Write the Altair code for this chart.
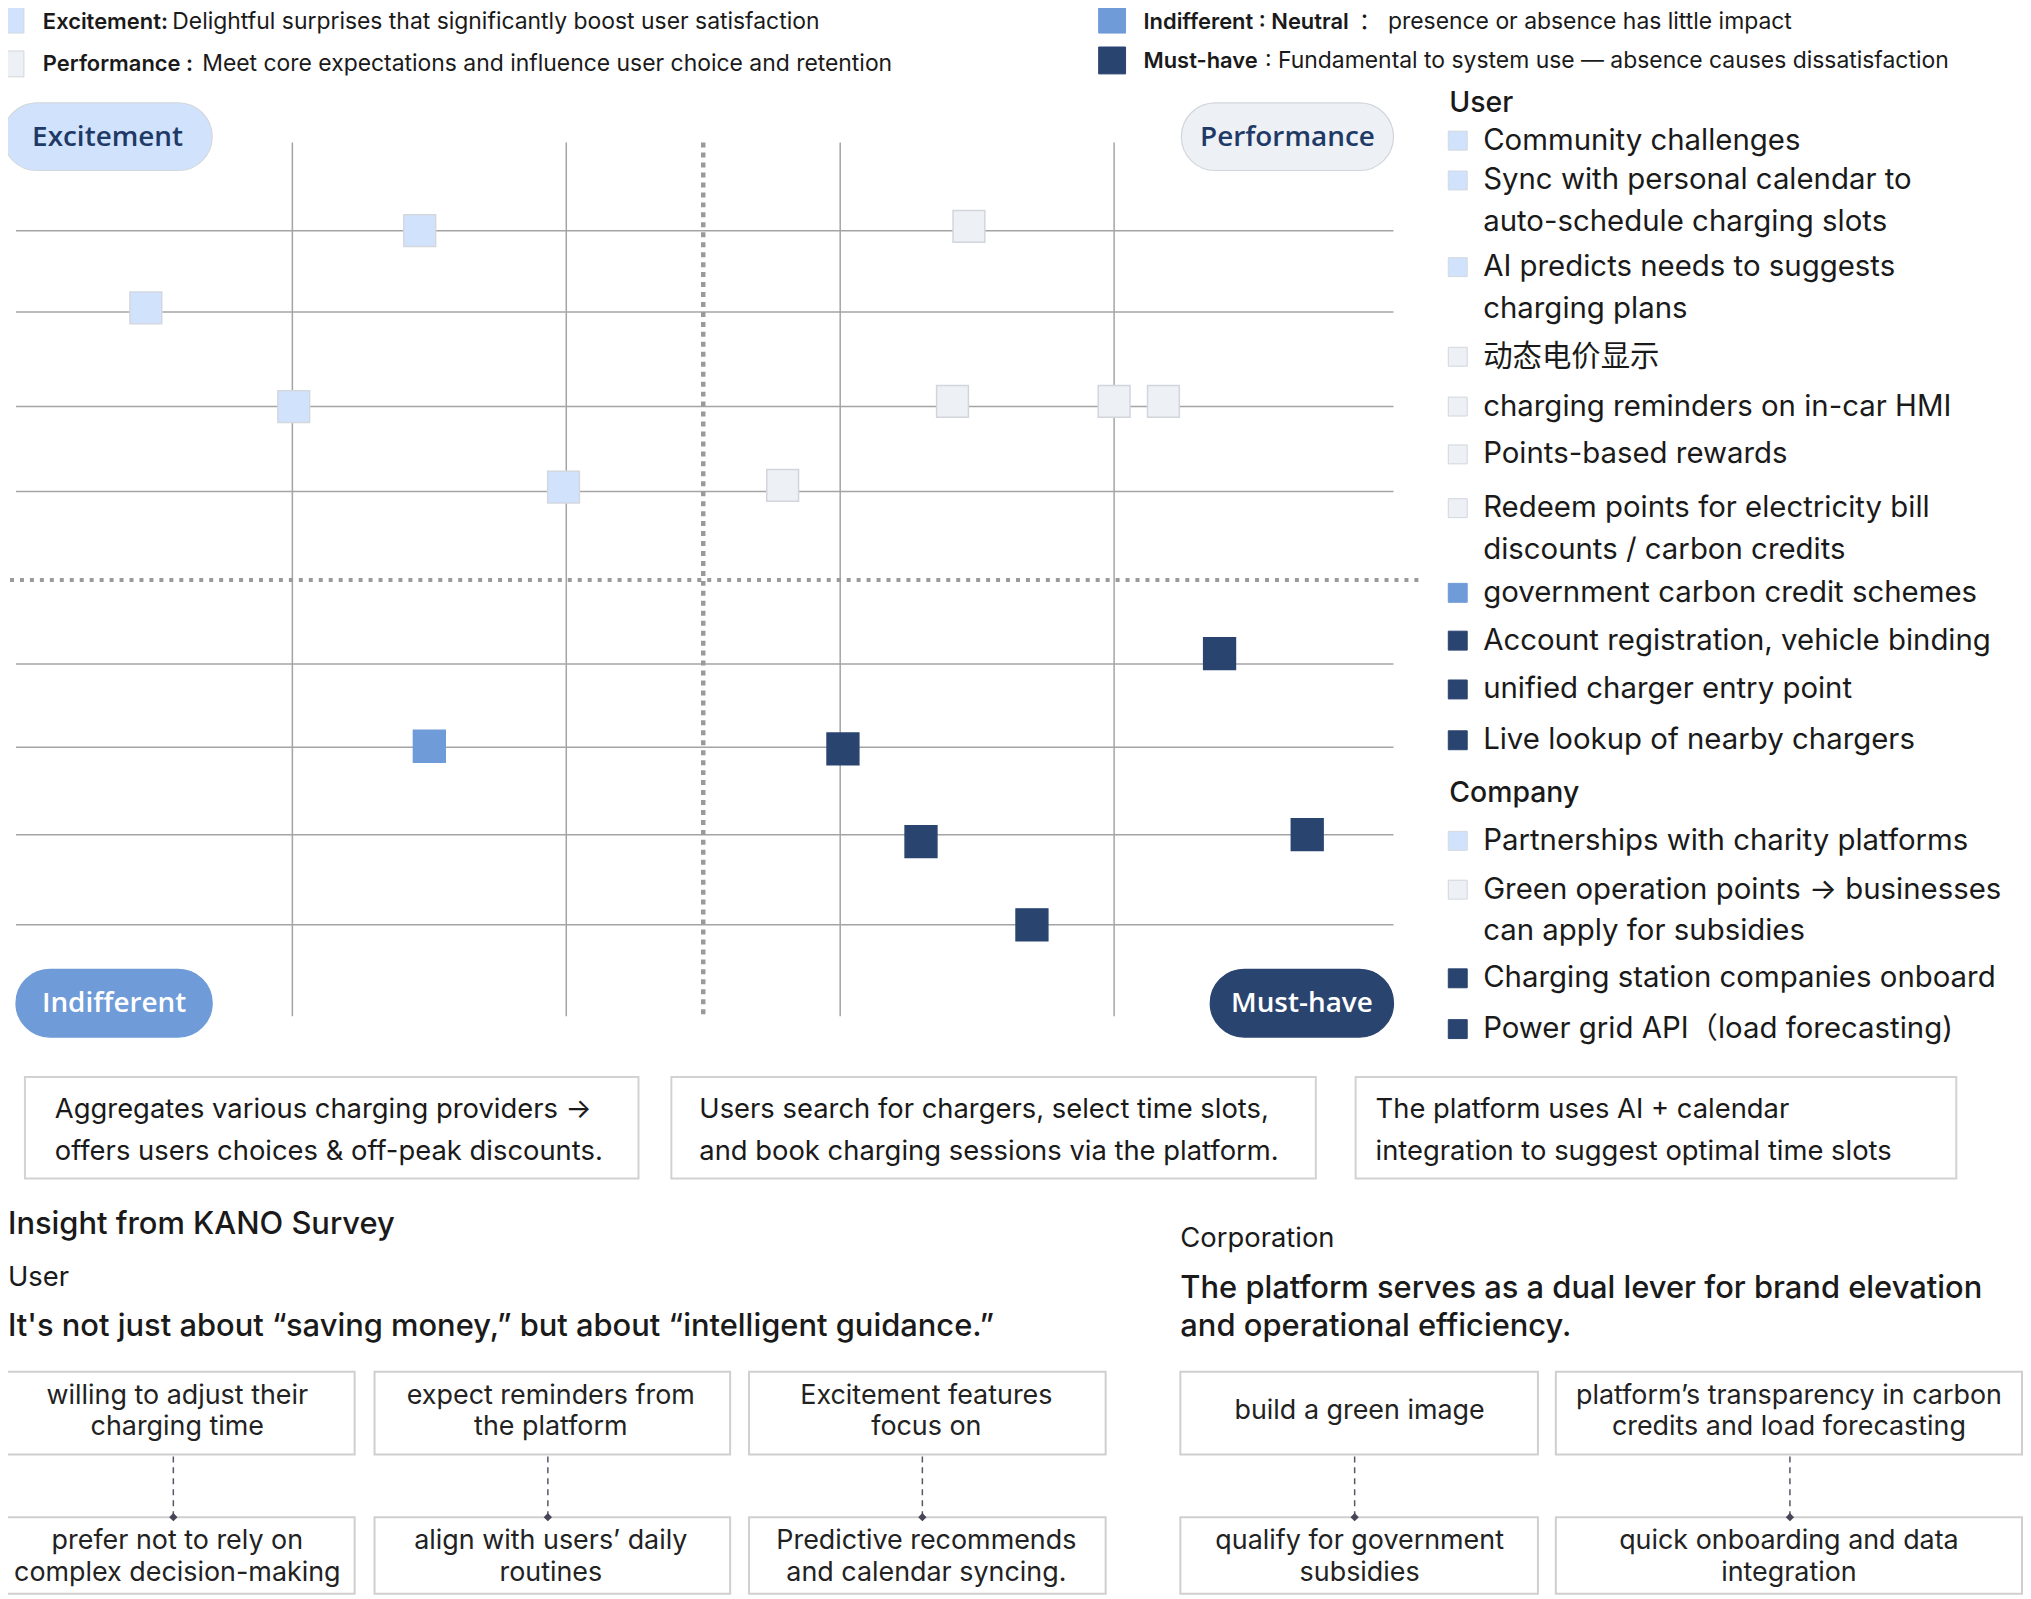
import altair as alt
import pandas as pd

# ---------------- data ----------------
CATEGORIES = ["Excitement", "Performance", "Indifferent", "Must-have"]
CATEGORY_COLORS = ["#d1e3fc", "#edf0f5", "#6f9bd8", "#2a4470"]
CATEGORY_STROKES = ["#d3d8df", "#d2d6dc", "#6f9bd8", "#2a4470"]

TOP_LEGEND_CATS = ["Excitement", "Performance", "Indifferent", "Must-have"]
TOP_LEGEND_BOLD = ["Excitement:", "Performance :", "Indifferent : Neutral", "Must-have"]
TOP_LEGEND_TEXT = [
    "Delightful surprises that significantly boost user satisfaction",
    "Meet core expectations and influence user choice and retention",
    "： presence or absence has little impact",
    ": Fundamental to system use — absence causes dissatisfaction",
]

# KANO matrix points (x: worse/better axis, y: satisfaction axis)
POINT_FEATURE = [
    "Community challenges", "Sync with personal calendar", "AI predicts needs",
    "Partnerships with charity platforms",
    "动态电价显示", "charging reminders on in-car HMI", "Points-based rewards",
    "Redeem points", "Green operation points",
    "government carbon credit schemes",
    "Account registration, vehicle binding", "unified charger entry point",
    "Live lookup of nearby chargers", "Charging station companies onboard",
    "Power grid API",
]
POINT_CATEGORY = ["Excitement"] * 4 + ["Performance"] * 5 + ["Indifferent"] + ["Must-have"] * 5
POINT_X = [-2.07, -4.07, -2.99, -1.02, 1.94, 1.82, 3.0, 3.36, 0.58, -2.0, 3.77, 1.02, 1.59, 4.41, 2.4]
POINT_Y = [4.03, 3.14, 2.0, 1.07, 4.08, 2.06, 2.06, 2.06, 1.09, -1.92, -0.85, -1.95, -3.02, -2.94, -3.98]

GRID_X = [-3, -1, 1, 3]
GRID_Y = [4.03, 3.09, 2.0, 1.02, -0.97, -1.93, -2.94, -3.98]

QUADRANT_LABELS = ["Excitement", "Performance", "Indifferent", "Must-have"]

USER_FEATURES = [
    ["Community challenges"],
    ["Sync with personal calendar to", "auto-schedule charging slots"],
    ["AI predicts needs to suggests", "charging plans"],
    ["动态电价显示"],
    ["charging reminders on in-car HMI"],
    ["Points-based rewards"],
    ["Redeem points for electricity bill", "discounts / carbon credits"],
    ["government carbon credit schemes"],
    ["Account registration, vehicle binding"],
    ["unified charger entry point"],
    ["Live lookup of nearby chargers"],
]
USER_FEATURE_CATS = ["Excitement", "Excitement", "Excitement", "Performance", "Performance",
                     "Performance", "Performance", "Indifferent", "Must-have", "Must-have", "Must-have"]
COMPANY_FEATURES = [
    ["Partnerships with charity platforms"],
    ["Green operation points → businesses", "can apply for subsidies"],
    ["Charging station companies onboard"],
    ["Power grid API（load forecasting)"],
]
COMPANY_FEATURE_CATS = ["Excitement", "Performance", "Must-have", "Must-have"]
LEGEND_HEADINGS = ["User", "Company"]

DESCRIPTIONS = [
    ["Aggregates various charging providers →", "offers users choices & off-peak discounts."],
    ["Users search for chargers, select time slots,", "and book charging sessions via the platform."],
    ["The platform uses AI + calendar", "integration to suggest optimal time slots"],
]

INSIGHT_TITLE = "Insight from KANO Survey"
USER_LABEL = "User"
USER_HEADLINE = "It's not just about “saving money,” but about “intelligent guidance.”"
CORP_LABEL = "Corporation"
CORP_HEADLINE = ["The platform serves as a dual lever for brand elevation", "and operational efficiency."]

INSIGHT_TOP = [
    ["willing to adjust their", "charging time"],
    ["expect reminders from", "the platform"],
    ["Excitement features", "focus on"],
    ["build a green image"],
    ["platform’s transparency in carbon", "credits and load forecasting"],
]
INSIGHT_BOTTOM = [
    ["prefer not to rely on", "complex decision-making"],
    ["align with users’ daily", "routines"],
    ["Predictive recommends", "and calendar syncing."],
    ["qualify for government", "subsidies"],
    ["quick onboarding and data", "integration"],
]

# ---------------- layout (reference pixel frame 2031 x 1599) ----------------
REF_W, REF_H = 2031, 1599
OFF = 8  # page margin
W, H = REF_W - OFF, REF_H - OFF
FONT = "Inter, 'Noto Sans CJK SC', sans-serif"
PILL_FONT = "'Open Sans', 'Noto Sans', sans-serif"
TEXT_COLOR = "#1a1a1a"


def sx(v):
    return v - OFF


def sy(v):
    return v - OFF


LXS = alt.Scale(domain=[OFF, REF_W], range=[0, W], nice=False, zero=False)
LYS = alt.Scale(domain=[OFF, REF_H], range=[0, H], nice=False, zero=False)

# quadrant frame
CX, UX, CY, UY = 706, 137.5, 579, 87.0
QF_X0, QF_X1, QF_Y0, QF_Y1 = 0, 1429, 140, 1017
QX_LO, QX_HI = (QF_X0 - CX) / UX, (QF_X1 - CX) / UX
QY_LO, QY_HI = (CY - QF_Y1) / UY, (CY - QF_Y0) / UY
QXS = alt.Scale(domain=[QX_LO, QX_HI], range=[sx(QF_X0), sx(QF_X1)], nice=False, zero=False)
QYS = alt.Scale(domain=[QY_LO, QY_HI], range=[sy(QF_Y1), sy(QF_Y0)], nice=False, zero=False)
HGRID_X0, HGRID_X1 = (16 - CX) / UX, (1399 - CX) / UX

FILL_SCALE = alt.Scale(domain=CATEGORIES, range=CATEGORY_COLORS)
STROKE_SCALE = alt.Scale(domain=CATEGORIES, range=CATEGORY_STROKES)


def LX(f="x"):
    return alt.X(f"{f}:Q", scale=LXS, axis=None)


def LY(f="y"):
    return alt.Y(f"{f}:Q", scale=LYS, axis=None)


def text_layer(rows, size, weight=400, color=TEXT_COLOR, align="left", font=FONT):
    df = pd.DataFrame(rows)
    return alt.Chart(df).mark_text(
        align=align, baseline="middle", font=font, fontSize=size,
        fontWeight=weight, color=color
    ).encode(x=LX(), y=LY(), text="text:N")


layers = []

# ---- quadrant grid ----
vgrid = pd.DataFrame({"x": GRID_X, "y": [QY_HI] * len(GRID_X), "y2": [QY_LO] * len(GRID_X)})
layers.append(alt.Chart(vgrid).mark_rule(color="#a4a4a4", strokeWidth=1.5).encode(
    x=alt.X("x:Q", scale=QXS, axis=None), y=alt.Y("y:Q", scale=QYS, axis=None), y2="y2:Q"))
hgrid = pd.DataFrame({"y": GRID_Y, "x": [HGRID_X0] * len(GRID_Y), "x2": [HGRID_X1] * len(GRID_Y)})
layers.append(alt.Chart(hgrid).mark_rule(color="#a4a4a4", strokeWidth=1.5).encode(
    x=alt.X("x:Q", scale=QXS, axis=None), x2="x2:Q", y=alt.Y("y:Q", scale=QYS, axis=None)))
vdot = pd.DataFrame({"x": [0.0], "y": [QY_HI], "y2": [QY_LO]})
layers.append(alt.Chart(vdot).mark_rule(color="#9a9a9a", strokeWidth=4.5, strokeDash=[5, 5]).encode(
    x=alt.X("x:Q", scale=QXS, axis=None), y=alt.Y("y:Q", scale=QYS, axis=None), y2="y2:Q"))
hdot = pd.DataFrame({"y": [0.0], "x": [QX_LO], "x2": [QX_HI]})
layers.append(alt.Chart(hdot).mark_rule(color="#9a9a9a", strokeWidth=4, strokeDash=[4, 6]).encode(
    x=alt.X("x:Q", scale=QXS, axis=None), x2="x2:Q", y=alt.Y("y:Q", scale=QYS, axis=None)))

# ---- points ----
pts = pd.DataFrame({"feature": POINT_FEATURE, "cat": POINT_CATEGORY, "x": POINT_X, "y": POINT_Y})
layers.append(alt.Chart(pts).mark_square(size=1020, opacity=1, strokeWidth=1.5).encode(
    x=alt.X("x:Q", scale=QXS, axis=None), y=alt.Y("y:Q", scale=QYS, axis=None),
    fill=alt.Fill("cat:N", scale=FILL_SCALE, legend=None),
    stroke=alt.Stroke("cat:N", scale=STROKE_SCALE, legend=None)))

# ---- quadrant pills ----
PILL_BOXES = [(3, 213, 100, 168), (1186, 1399, 100, 168), (16, 213, 970, 1038), (1215, 1399, 970, 1038)]
PILL_TEXT_COLORS = ["#1f3a66", "#1f3a66", "#ffffff", "#ffffff"]
pill_df = pd.DataFrame({
    "cat": QUADRANT_LABELS,
    "x": [b[0] for b in PILL_BOXES], "x2": [b[1] for b in PILL_BOXES],
    "y": [b[2] for b in PILL_BOXES], "y2": [b[3] for b in PILL_BOXES],
})
layers.append(alt.Chart(pill_df).mark_rect(cornerRadius=34, strokeWidth=1.2).encode(
    x=LX(), x2="x2:Q", y=LY(), y2="y2:Q",
    fill=alt.Fill("cat:N", scale=FILL_SCALE, legend=None),
    stroke=alt.Stroke("cat:N", scale=STROKE_SCALE, legend=None)))
for i, lab in enumerate(QUADRANT_LABELS):
    b = PILL_BOXES[i]
    layers.append(text_layer([{"x": (b[0] + b[1]) / 2, "y": (b[2] + b[3]) / 2 + 1, "text": lab}],
                             28, 600, PILL_TEXT_COLORS[i], "center", PILL_FONT))

# ---- top legend ----
TOP_SQ = [(0, 24, 4, 30), (0, 24, 48, 74), (1103, 1130, 4, 30), (1103, 1130, 44, 71)]
top_sq = pd.DataFrame({"cat": TOP_LEGEND_CATS,
                       "x": [s[0] for s in TOP_SQ], "x2": [s[1] for s in TOP_SQ],
                       "y": [s[2] for s in TOP_SQ], "y2": [s[3] for s in TOP_SQ]})
layers.append(alt.Chart(top_sq).mark_rect(strokeWidth=1).encode(
    x=LX(), x2="x2:Q", y=LY(), y2="y2:Q",
    fill=alt.Fill("cat:N", scale=FILL_SCALE, legend=None),
    stroke=alt.Stroke("cat:N", scale=STROKE_SCALE, legend=None)))
TOP_BOLD_POS = [(43, 19), (43, 61), (1148, 19), (1148, 58)]
TOP_TEXT_POS = [(173, 19), (203, 61), (1364, 19), (1270, 58)]
layers.append(text_layer([{"x": p[0], "y": p[1], "text": t} for p, t in zip(TOP_BOLD_POS, TOP_LEGEND_BOLD)], 22, 600))
layers.append(text_layer([{"x": p[0], "y": p[1], "text": t} for p, t in zip(TOP_TEXT_POS, TOP_LEGEND_TEXT)], 23, 400))

# ---- right legend ----
LEG_SQ_X0, LEG_SQ_X1, LEG_TEXT_X, LEG_LINE = 1454, 1473, 1489, 42
USER_ROW_Y = [138, 178, 265, 355, 405, 453, 507, 592, 640, 689, 740]
COMPANY_ROW_Y = [841, 890, 979, 1030]
HEADING_Y = [100, 793]
leg_sq_rows, leg_txt_rows = [], []
for feats, cats, ys in [(USER_FEATURES, USER_FEATURE_CATS, USER_ROW_Y),
                        (COMPANY_FEATURES, COMPANY_FEATURE_CATS, COMPANY_ROW_Y)]:
    for lines, c, y0 in zip(feats, cats, ys):
        leg_sq_rows.append({"cat": c, "x": LEG_SQ_X0, "x2": LEG_SQ_X1, "y": y0 - 9.5, "y2": y0 + 9.5})
        for k, ln in enumerate(lines):
            leg_txt_rows.append({"x": LEG_TEXT_X, "y": y0 + k * LEG_LINE, "text": ln})
layers.append(alt.Chart(pd.DataFrame(leg_sq_rows)).mark_rect(strokeWidth=1).encode(
    x=LX(), x2="x2:Q", y=LY(), y2="y2:Q",
    fill=alt.Fill("cat:N", scale=FILL_SCALE, legend=None),
    stroke=alt.Stroke("cat:N", scale=STROKE_SCALE, legend=None)))
layers.append(text_layer(leg_txt_rows, 29.5, 400))
layers.append(text_layer([{"x": 1455, "y": y, "text": t} for t, y in zip(LEGEND_HEADINGS, HEADING_Y)], 28.5, 500))

# ---- description boxes ----
DESC_BOX = [(25, 641, 55), (674, 1321, 702), (1361, 1964, 1381)]
DESC_Y0, DESC_Y1, DESC_LINES = 1078, 1180, [1111, 1153]
desc_boxes = pd.DataFrame({"x": [b[0] for b in DESC_BOX], "x2": [b[1] for b in DESC_BOX],
                           "y": [DESC_Y0] * 3, "y2": [DESC_Y1] * 3})
layers.append(alt.Chart(desc_boxes).mark_rect(fill="#ffffff", stroke="#d2d2d2", strokeWidth=2).encode(
    x=LX(), x2="x2:Q", y=LY(), y2="y2:Q"))
desc_rows = []
for b, lines in zip(DESC_BOX, DESCRIPTIONS):
    for k, ln in enumerate(lines):
        desc_rows.append({"x": b[2], "y": DESC_LINES[k], "text": ln})
layers.append(text_layer(desc_rows, 27.5, 400))

# ---- insight section ----
LEFT_X = OFF
layers.append(text_layer([{"x": LEFT_X, "y": 1227, "text": INSIGHT_TITLE}], 31, 500))
layers.append(text_layer([{"x": LEFT_X, "y": 1280, "text": USER_LABEL},
                          {"x": 1185, "y": 1241, "text": CORP_LABEL}], 27.5, 400))
layers.append(text_layer([{"x": LEFT_X, "y": 1329, "text": USER_HEADLINE},
                          {"x": 1185, "y": 1291, "text": CORP_HEADLINE[0]},
                          {"x": 1185, "y": 1329, "text": CORP_HEADLINE[1]}], 31, 500))

INS_BOX_X = [(0, 356), (376, 733), (752, 1110), (1185, 1544), (1562, 2030)]
INS_TEXT_X = [178, 553, 930, 1365, 1796]
INS_CONN_X = [174, 550, 926, 1360, 1797]
TOP_ROW = (1374, 1457)
BOT_ROW = (1520, 1597)
ins_boxes = []
for bx in INS_BOX_X:
    for row in (TOP_ROW, BOT_ROW):
        ins_boxes.append({"x": bx[0], "x2": bx[1], "y": row[0], "y2": row[1]})
layers.append(alt.Chart(pd.DataFrame(ins_boxes)).mark_rect(fill="#ffffff", stroke="#cfcfcf", strokeWidth=2).encode(
    x=LX(), x2="x2:Q", y=LY(), y2="y2:Q"))
conn = pd.DataFrame({"x": INS_CONN_X, "y": [TOP_ROW[1] + 2] * 5, "y2": [BOT_ROW[0] - 2] * 5})
layers.append(alt.Chart(conn).mark_rule(color="#5b5566", strokeWidth=1.5, strokeDash=[6, 5]).encode(
    x=LX(), y=LY(), y2="y2:Q"))
diam = pd.DataFrame({"x": INS_CONN_X, "y": [BOT_ROW[0]] * 5})
layers.append(alt.Chart(diam).mark_point(shape="diamond", filled=True, size=70, color="#4a4458", opacity=1).encode(
    x=LX(), y=LY()))
ins_rows = []
for cxm, lines in zip(INS_TEXT_X, INSIGHT_TOP):
    if len(lines) == 1:
        ins_rows.append({"x": cxm, "y": 1413, "text": lines[0]})
    else:
        for k, ln in enumerate(lines):
            ins_rows.append({"x": cxm, "y": 1398 + 32 * k, "text": ln})
for cxm, lines in zip(INS_TEXT_X, INSIGHT_BOTTOM):
    for k, ln in enumerate(lines):
        ins_rows.append({"x": cxm, "y": 1544 + 32 * k, "text": ln})
layers.append(text_layer(ins_rows, 27, 400, "#222222", "center"))

chart = alt.layer(*layers).resolve_scale(x="independent", y="independent").properties(
    width=W, height=H, padding=0, autosize=alt.AutoSizeParams(type="none")
).configure_view(strokeWidth=0)

chart.save("out.html", embed_options={"renderer": "svg", "actions": False})
